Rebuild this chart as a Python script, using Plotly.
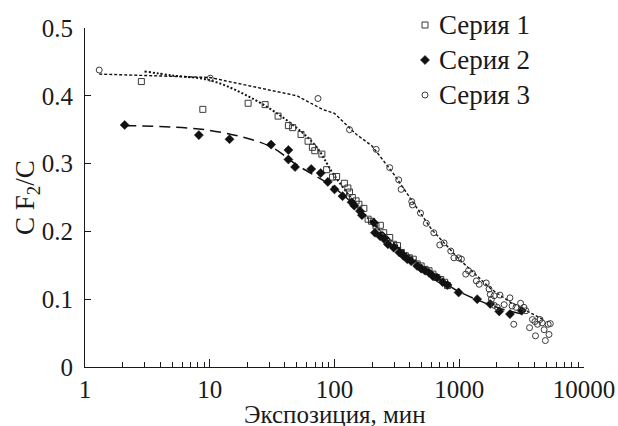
import plotly.graph_objects as go

# Серия 1 — open squares
s1_x = [2.83, 8.8, 20.3, 27.8, 35.3, 42.7, 46.2, 53.9, 61.4, 66.5, 69.5, 79.2, 86.5,
        96.5, 104, 120, 128, 132, 139, 149, 157, 172, 186, 198, 215, 233, 248, 277,
        298, 320, 344, 370, 398, 428, 460, 495, 532, 572, 615, 661, 711, 764, 806]
s1_y = [0.421, 0.380, 0.389, 0.387, 0.370, 0.356, 0.353, 0.343, 0.333, 0.324, 0.319,
        0.314, 0.291, 0.280, 0.281, 0.271, 0.264, 0.258, 0.250, 0.245, 0.240, 0.234,
        0.218, 0.215, 0.208, 0.209, 0.198, 0.191, 0.181, 0.179, 0.169, 0.164, 0.161,
        0.159, 0.152, 0.149, 0.144, 0.142, 0.137, 0.132, 0.129, 0.125, 0.120]

# Серия 2 — filled diamonds
s2_x = [2.08, 8.18, 14.4, 31.0, 42.7, 42.7, 48.3, 65.1, 77.5, 88.4, 100, 116, 137,
        144, 160, 166, 207, 211, 232, 249, 268, 298, 331, 356, 383, 412, 460, 495,
        532, 572, 615, 661, 737, 806, 988, 1393, 1771, 2094, 2550, 3170]
s2_y = [0.357, 0.342, 0.336, 0.328, 0.320, 0.306, 0.295, 0.292, 0.286, 0.273, 0.262,
        0.252, 0.243, 0.238, 0.230, 0.224, 0.213, 0.198, 0.193, 0.189, 0.181, 0.176,
        0.169, 0.164, 0.159, 0.156, 0.149, 0.145, 0.142, 0.139, 0.134, 0.132, 0.125,
        0.121, 0.110, 0.100, 0.093, 0.082, 0.078, 0.083]

# Серия 3 — open circles
s3_x = [1.30, 10.1, 73.7, 132, 216, 277, 327, 342, 416, 422, 489, 545, 625, 698, 756,
        855, 907, 988, 1041, 1127, 1186, 1276, 1371, 1445, 1645, 1733, 1771, 1810,
        1905, 1905, 2020, 2120, 2290, 2550, 2650, 2735, 2850, 3100, 3300, 3420, 3660,
        3860, 4040, 4085, 4240, 4440, 4620, 4790, 4900, 5160, 5240, 5370]
s3_y = [0.438, 0.426, 0.396, 0.350, 0.321, 0.294, 0.276, 0.262, 0.244, 0.239, 0.227,
        0.212, 0.198, 0.180, 0.183, 0.171, 0.161, 0.161, 0.159, 0.137, 0.142, 0.138,
        0.127, 0.122, 0.124, 0.115, 0.107, 0.100, 0.105, 0.091, 0.088, 0.106, 0.092,
        0.102, 0.090, 0.063, 0.088, 0.094, 0.088, 0.083, 0.058, 0.070, 0.067, 0.046,
        0.063, 0.070, 0.065, 0.055, 0.039, 0.063, 0.048, 0.064]

# Approximating curves
fit1_x = [3, 5, 10, 20, 40, 70, 100, 200, 400, 820]
fit1_y = [0.436, 0.430, 0.423, 0.400, 0.366, 0.327, 0.282, 0.213, 0.164, 0.121]
fit2_x = [2.1, 10, 30, 50, 100, 200, 400, 800, 1000, 2000, 3200]
fit2_y = [0.356, 0.349, 0.326, 0.298, 0.264, 0.214, 0.161, 0.122, 0.111, 0.088, 0.078]
fit3_x = [1.3, 10, 50, 80, 100, 150, 200, 300, 600, 1000, 1800, 2600, 4700]
fit3_y = [0.432, 0.427, 0.400, 0.380, 0.374, 0.343, 0.326, 0.284, 0.203, 0.159,
          0.115, 0.095, 0.070]

x_ticks = [1, 10, 100, 1000, 10000]
x_labels = ["1", "10", "100", "1000", "10000"]
y_ticks = [0, 0.1, 0.2, 0.3, 0.4, 0.5]
y_labels = ["0", "0.1", "0.2", "0.3", "0.4", "0.5"]

series_names = ["Серия 1", "Серия 2", "Серия 3"]

FONT = "Liberation Serif"
EDGE = "#3a3a3a"
INK = "#1a1a1a"

# page geometry (px): the paper area runs from the top edge down to the x axis
W, H = 618, 426
M_L, M_R, M_B = 85, 34, 59
PLOT_TOP = 28
PAPER_H = H - M_B
Y_DOMAIN_TOP = (PAPER_H - PLOT_TOP) / PAPER_H


def paper_y(px):
    return (PAPER_H - px) / PAPER_H


def paper_x(px):
    return (px - M_L) / (W - M_L - M_R)


marker_styles = [
    dict(symbol="square-open", size=6, color=EDGE, line=dict(width=1, color=EDGE)),
    dict(symbol="diamond", size=7, color="#111111", line=dict(width=0.5, color="#111111")),
    dict(symbol="circle-open", size=6, color=EDGE, line=dict(width=1, color=EDGE)),
]

fig = go.Figure()

# curves
fig.add_trace(go.Scatter(x=fit1_x, y=fit1_y, mode="lines", showlegend=False,
                         line=dict(color="#111111", width=2, dash="2px,2px"),
                         line_shape="spline"))
fig.add_trace(go.Scatter(x=fit2_x, y=fit2_y, mode="lines", showlegend=False,
                         line=dict(color="#111111", width=1.5, dash="11px,6px"),
                         line_shape="spline"))
fig.add_trace(go.Scatter(x=fit3_x, y=fit3_y, mode="lines", showlegend=False,
                         line=dict(color="#111111", width=1.4, dash="3px,2px")))

# measured points
for name, xs, ys, mk in zip(series_names, [s1_x, s2_x, s3_x], [s1_y, s2_y, s3_y],
                            marker_styles):
    fig.add_trace(go.Scatter(x=xs, y=ys, mode="markers", name=name,
                             showlegend=False, marker=mk))

# key in the upper right corner, drawn on a hidden unit axis pair
key_x = paper_x(425)
key_text_x = paper_x(437)
key_rows = [paper_y(25), paper_y(60), paper_y(95)]
for name, ky, mk in zip(series_names, key_rows, marker_styles):
    fig.add_trace(go.Scatter(x=[key_x], y=[ky], mode="markers", xaxis="x2", yaxis="y2",
                             showlegend=False, hoverinfo="skip", cliponaxis=False,
                             marker=mk))
    fig.add_annotation(x=key_text_x, y=ky, xref="paper", yref="paper", text=name,
                       showarrow=False, xanchor="left", yanchor="middle",
                       font=dict(family=FONT, size=27, color=INK))

# axis titles
fig.add_annotation(x=0.5, y=paper_y(414), xref="paper", yref="paper",
                   text="Экспозиция, мин",
                   showarrow=False, xanchor="center", yanchor="middle",
                   font=dict(family=FONT, size=25, color=INK))
fig.add_annotation(x=paper_x(27), y=paper_y(198), xref="paper", yref="paper",
                   text="C F<sub>2</sub>/C", textangle=-90,
                   showarrow=False, xanchor="center", yanchor="middle",
                   font=dict(family=FONT, size=27, color=INK))

fig.update_layout(
    width=W, height=H,
    margin=dict(l=M_L, r=M_R, t=0, b=M_B),
    paper_bgcolor="white", plot_bgcolor="rgba(0,0,0,0)",
    font=dict(family=FONT, size=24, color=INK),
    showlegend=False,
    xaxis=dict(
        type="log", range=[0, 4], automargin=False, domain=[0, 1],
        tickvals=x_ticks, ticktext=x_labels,
        ticks="inside", ticklen=8, tickwidth=1, tickcolor=INK,
        minor=dict(ticks="inside", ticklen=5, tickwidth=1, tickcolor=INK,
                   dtick="D1", showgrid=False),
        showline=True, linecolor=INK, linewidth=1.2,
        showgrid=False, zeroline=False,
        tickfont=dict(family=FONT, size=25, color=INK),
        ticklabelstandoff=0,
    ),
    yaxis=dict(
        range=[0, 0.5], automargin=False, domain=[0, Y_DOMAIN_TOP],
        tickvals=y_ticks, ticktext=y_labels,
        ticks="inside", ticklen=6, tickwidth=1, tickcolor=INK,
        showline=True, linecolor=INK, linewidth=1.2,
        showgrid=False, zeroline=False,
        tickfont=dict(family=FONT, size=25, color=INK),
        ticklabelstandoff=6,
    ),
    xaxis2=dict(range=[0, 1], domain=[0, 1], anchor="y2", visible=False,
                fixedrange=True),
    yaxis2=dict(range=[0, 1], domain=[0, 1], anchor="x2", visible=False,
                fixedrange=True),
)

fig.write_html("out.html")
